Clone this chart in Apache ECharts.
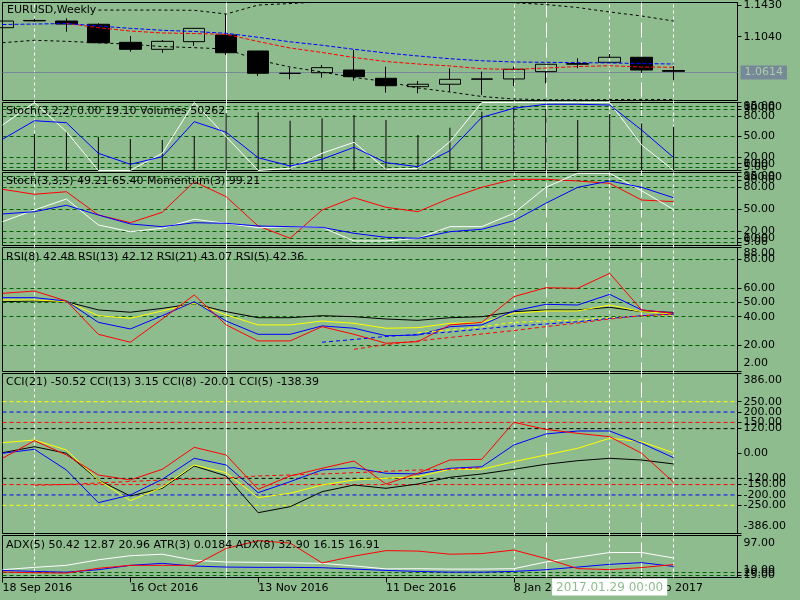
<!DOCTYPE html>
<html>
<head>
<meta charset="utf-8">
<script src="https://cdn.jsdelivr.net/npm/echarts@6.0.0/dist/echarts.min.js"></script>
<style>
html,body{margin:0;padding:0;background:#8fbc8f;}
#c{width:800px;height:600px;}
</style>
</head>
<body>
<div id="c"></div>
<script>
const FONT = 'DejaVu Sans';

// ---- categories (weekly bars) ----
const dates = ['18 Sep 2016','25 Sep 2016','2 Oct 2016','9 Oct 2016','16 Oct 2016','23 Oct 2016','30 Oct 2016',
  '6 Nov 2016','13 Nov 2016','20 Nov 2016','27 Nov 2016','4 Dec 2016','11 Dec 2016','18 Dec 2016','25 Dec 2016',
  '1 Jan 2017','8 Jan 2017','15 Jan 2017','22 Jan 2017','29 Jan 2017','5 Feb 2017','12 Feb 2017','19 Feb 2017','26 Feb 2017'];

// ---- price pane ----
const open  = [1.1151,1.1240,1.1233,1.1193,1.0971,1.0885,1.0979,1.1061,1.0864,1.0590,1.0597,1.0630,1.0528,1.0425,1.0455,1.0520,1.0520,1.0610,1.0701,1.0725,1.0787,1.0624];
const close = [1.1233,1.1235,1.1196,1.0966,1.0885,1.0983,1.1143,1.0843,1.0590,1.0588,1.0659,1.0548,1.0437,1.0455,1.0516,1.0518,1.0639,1.0701,1.0710,1.0787,1.0630,1.0614];
const high  = [1.1240,1.1262,1.1266,1.1205,1.1049,1.0999,1.1147,1.1319,1.0866,1.0659,1.0692,1.0876,1.0671,1.0495,1.0651,1.0610,1.0671,1.0703,1.0774,1.0827,1.0790,1.0680];
const low   = [1.1145,1.1225,1.1102,1.0959,1.0856,1.0843,1.0926,1.0815,1.0557,1.0516,1.0536,1.0499,1.0351,1.0344,1.0364,1.0323,1.0434,1.0467,1.0651,1.0722,1.0597,1.0507];
const bandUp  = [null,null,null,1.1368,1.1368,1.1368,1.1365,1.1319,1.1430,1.1448,1.1470,1.1500,1.1520,1.1520,1.1510,1.1500,1.1458,1.1436,1.1399,1.1344,1.1295,1.1233];
const bandLow = [1.0966,1.0996,1.0983,1.0966,1.0947,1.0919,1.0905,1.0889,1.0753,1.0667,1.0606,1.0538,1.0489,1.0409,1.0360,1.0304,1.0274,1.0265,1.0264,1.0266,1.0268,1.0267];
const maBlue = [1.1190,1.1196,1.1202,1.1172,1.1143,1.1119,1.1104,1.1082,1.1033,1.0977,1.0935,1.0885,1.0840,1.0803,1.0769,1.0744,1.0729,1.0725,1.0721,1.0717,1.0710,1.0704];
const maRed  = [null,null,1.1205,1.1151,1.1110,1.1086,1.1079,1.1070,1.0981,1.0901,1.0846,1.0784,1.0735,1.0704,1.0680,1.0646,1.0637,1.0655,1.0673,1.0683,1.0667,1.0664];
const priceTicks = [1.1430, 1.1040];

// ---- Stoch(3,2,2) + Volumes ----
const volumes = [45000,41900,44500,38800,36100,35000,39600,65600,66800,57100,59900,63700,57900,40700,49100,67500,73200,70600,57900,64800,54200,50262];
const stoch1K = [66.9,100,57.1,0,0,25.3,100,49.7,0,3.2,25.3,41.5,1.8,3.2,42.4,100,100,100,100,100,37.5,0.00];
const stoch1D = [45.9,73.2,70.3,25.3,9.1,20.3,71.8,56.2,18.8,6.6,16.5,34.1,11.5,5.6,29.1,78.2,91.5,97.4,97.4,96.3,59.6,19.10];
const stochLevels = [95,90,80,50,20,10,5];
const stochTicks = [100,95,90,80,50,20,10,5,0];

// ---- Stoch(3,3,5) + Momentum(3) ----
const stoch2K = [32.6,48.6,63.7,28.1,18.9,23.6,35.9,30.4,24.4,25.8,24.9,6.2,6.2,9.9,25.8,25.8,44.1,79.7,98.9,98.9,75.1,49.21];
const stoch2D = [43.2,46.3,55.1,41.8,29.5,25.8,31.2,30.4,26.7,25.8,24.9,16.7,11.2,9.9,18.9,22.2,34.0,57.8,79.7,88.4,79.7,65.40];
const momentum = [100.62,100.05,100.34,97.68,96.80,97.99,101.49,99.77,96.42,95.02,98.25,99.66,98.56,98.06,99.59,100.85,101.76,101.76,101.57,101.30,99.39,99.21];

// ---- RSI ----
const rsi5  = [56.2,57.8,50.9,27.8,22.3,38.4,55.1,34.3,23.2,23.2,33.1,27.8,21.6,22.7,34.3,36.1,53.9,60.1,59.7,70.1,44.7,42.36];
const rsi8  = [53.2,53.2,50.9,36.1,31.5,40.7,50.4,37.0,27.8,27.8,33.6,32.0,26.8,27.3,33.1,34.3,44.0,48.6,48.1,55.5,44.7,42.48];
const rsi13 = [51.6,51.6,50.4,40.7,38.9,44.0,49.3,41.2,34.3,34.3,37.0,35.4,32.0,32.4,35.4,36.1,42.4,44.0,44.0,48.1,43.5,42.12];
const rsi21 = [50.4,50.9,50.4,44.7,43.1,45.8,49.0,43.5,39.3,39.3,40.7,40.0,38.4,37.5,39.3,40.0,43.5,44.7,44.7,46.5,43.5,43.07];
const rsiMaBlue   = [null,null,null,null,null,null,null,null,null,null,22.3,24.2,26.3,27.7,29.4,31.5,33.6,34.9,36.5,38.9,40.7,41.7];
const rsiMaRed    = [null,null,null,null,null,null,null,null,null,null,null,17.4,20.7,23.2,25.6,28.0,30.4,33.1,35.6,38.4,40.7,41.9];
const rsiMaYellow = [null,null,null,null,null,null,null,null,null,null,null,null,null,29.0,30.8,32.9,36.1,37.0,37.7,39.3,40.5,41.2];
const rsiLevels = [80,60,50,40,20];
const rsiTicks = [88,80,60,50,40,20,2];

// ---- CCI ----
const cci5  = [-23.2,61.7,-7.2,-103.7,-127.8,-76.2,29.9,-7.2,-172.7,-108.5,-71.4,-36.2,-147.1,-95.5,-31.4,-28.0,150.5,116.7,97.4,81.0,1.0,-138.39];
const cci8  = [1.0,20.3,-79.6,-237.3,-200.2,-124.5,-23.2,-55.5,-189.1,-136.0,-79.6,-68.5,-95.5,-98.9,-71.4,-63.7,41.0,94.1,108.5,108.5,49.2,-20.01];
const cci13 = [52.1,65.1,16.9,-127.8,-227.7,-163.1,-55.5,-92.6,-213.2,-192.0,-152.0,-127.8,-119.6,-111.9,-76.2,-76.2,-39.6,-7.2,25.1,73.3,56.9,3.15];
const cci21 = [3.9,32.8,1.0,-127.8,-205.0,-167.9,-60.3,-108.5,-285.6,-256.6,-184.3,-152.0,-167.9,-147.1,-114.8,-98.9,-76.2,-52.1,-34.7,-23.2,-31.4,-50.52];
const cciMa = [null,-153.4,-149.5,-142.3,-135.1,-127.8,-123.0,-118.2,-108.5,-103.7,-98.9,-92.6,-85.9,-79.6,-76.2,-68.5];
const cciLevelValues = [250, 200, 150, 120, -120, -150, -200, -250];
const cciLevelColors = ['#ffff00', '#0000ff', '#ff0000', '#000000', '#000000', '#ff0000', '#0000ff', '#ffff00'];
const cciTicks = [386,250,200,150,120,0,-120,-150,-200,-250,-386];

// ---- ADX / ATR ----
const adx5 = [26.1,31.0,35.2,46.7,55.1,58.2,45.6,42.1,41.4,40.4,39.3,34.1,27.8,28.2,27.4,27.4,28.2,42.1,51.9,61.8,61.8,50.42];
const adx8 = [24.7,22.6,21.1,26.1,35.2,39.3,33.7,31.6,31.0,31.0,30.3,27.4,24.7,22.6,21.1,21.1,22.6,26.1,31.6,37.3,40.8,32.90];
const atr3 = [0.0134,0.0129,0.0127,0.0159,0.0179,0.0179,0.0179,0.0293,0.0345,0.0329,0.0195,0.0241,0.0278,0.0275,0.0254,0.0258,0.0282,0.0225,0.0157,0.0150,0.0164,0.0184];
const adxLevels = [20,15];
const adxTicks = [97,20,15,10];

// ---- vertical marker lines ----
const vLineDates  = ['25 Sep 2016','6 Nov 2016','8 Jan 2017','15 Jan 2017','29 Jan 2017','5 Feb 2017','12 Feb 2017'];
const vLineStyles = [[3,3],'solid',[3,3],[15,5],[3,3],[15,5],[3,3]];

// ---------------------------------------------------------------
const panes = [
  {top: 2, height: 98},
  {top: 102, height: 68},
  {top: 172, height: 73},
  {top: 247, height: 124},
  {top: 373, height: 160},
  {top: 535, height: 42},
  {top: 2, height: 575, overlay: true}
];

function xAx(i) {
  const bottom = (i === 5);
  const ax = {
    type: 'category', gridIndex: i, data: dates, boundaryGap: false, show: i !== 6,
    axisLine: {show: false},
    axisTick: {show: bottom, interval: 3, length: 5, lineStyle: {color: '#000', width: 1}},
    axisLabel: {show: bottom, interval: 3, align: 'left', margin: 5, color: '#000', fontFamily: FONT, fontSize: 11},
    splitLine: {show: false}
  };
  if (bottom) {
    ax.axisPointer = {
      show: true, type: 'none', value: 19, status: 'show', snap: false, triggerTooltip: false,
      label: {show: true, formatter: () => '2017.01.29 00:00', backgroundColor: '#ffffff', color: '#8fbc8f',
        fontFamily: FONT, fontSize: 12, padding: [3, 4, 2, 4], margin: 1, borderRadius: 0,
        shadowBlur: 0, shadowColor: 'transparent', borderWidth: 0}
    };
  }
  return ax;
}

// one axis per printed value, so the terminal-style overlapping labels are all kept
const yAxes = [];
function addAxis(ax) { yAxes.push(ax); return yAxes.length - 1; }
function paneAxes(grid, min, max, ticks, digits, padTop, padBot) {
  const rs = (p) => ({padding: p, color: '#000', fontFamily: FONT, fontSize: 11});
  let first = -1;
  ticks.forEach((v, k) => {
    const isMax = Math.abs(v - max) < 1e-9, isMin = Math.abs(v - min) < 1e-9;
    const idx = addAxis({
      type: 'value', gridIndex: grid, min: min, max: max, position: 'right',
      axisLine: {show: k === 0, lineStyle: {color: '#000', width: 1}},
      axisTick: {show: true, length: 4, customValues: [v], lineStyle: {color: '#000', width: 1}},
      splitLine: {show: false},
      axisLabel: {show: true, customValues: [v], margin: 6, hideOverlap: false, showMinLabel: true, showMaxLabel: true,
        formatter: (val) => {
          const s = Number(val).toFixed(digits);
          return isMax ? '{t|' + s + '}' : (isMin ? '{b|' + s + '}' : '{n|' + s + '}');
        },
        rich: {t: rs([padTop, 0, 0, 0]), b: rs([0, 0, padBot, 0]), n: rs([0, 0, 0, 0])}}
    });
    if (first < 0) first = idx;
  });
  return first;
}
function hidY(grid, min, max) {
  return addAxis({type: 'value', gridIndex: grid, min: min, max: max, show: false, splitLine: {show: false}});
}

const Y = {};
Y.price = paneAxes(0, 1.0255, 1.1461, priceTicks, 4, 0, 0);
Y.st1 = paneAxes(1, 0, 100, stochTicks, 2, 10, 12);
Y.vol = hidY(1, 0, 78000);
Y.st2 = paneAxes(2, 0, 100, stochTicks, 2, 10, 12);
Y.mom = hidY(2, 94.19, 102.54);
Y.rsi = paneAxes(3, 2, 88, rsiTicks, 2, 11, 17);
Y.cci = paneAxes(4, -386, 386, cciTicks, 2, 13, 14);
Y.adx = paneAxes(5, 10, 97, adxTicks, 2, 16, 14);
Y.atr = hidY(5, 0.0097, 0.0380);
Y.ov = hidY(6, 0, 1);

function ln(data, x, y, color, dash, z) {
  return {type: 'line', data: data, xAxisIndex: x, yAxisIndex: y, showSymbol: false, symbol: 'none',
    silent: true, connectNulls: false, z: z || 4,
    lineStyle: {color: color, width: 1, type: dash || 'solid'}, itemStyle: {color: color}};
}
// horizontal level line: from the first to the last category at the level value
function levelLine(v, color, x, y) {
  return ln([[dates[0], v], [dates[dates.length - 1], v]], x, y, color, [4, 3], 2);
}
function levels(vals, color) {
  return {silent: true, symbol: 'none', animation: false, z: 2, label: {show: false},
    lineStyle: {color: color || 'rgb(0,100,0)', type: [4, 3], width: 1, opacity: 1},
    data: vals.map(v => ({yAxis: v}))};
}

const lastPrice = close[close.length - 1];
const tStyle = {fontFamily: FONT, fontSize: 11, fontWeight: 'normal', color: '#000'};

const series = [
  // vertical object lines across all panes
  {type: 'line', xAxisIndex: 6, yAxisIndex: Y.ov, data: [], z: 1, silent: true,
   markLine: {silent: true, symbol: 'none', animation: false, z: 1, label: {show: false},
     data: vLineDates.map((d, k) => ({xAxis: d, lineStyle: {color: 'white', width: 1, type: vLineStyles[k]}}))}},
  // price
  {type: 'candlestick', xAxisIndex: 0, yAxisIndex: Y.price, barWidth: 22, z: 3, silent: true,
   data: open.map((o, i) => [o, close[i], low[i], high[i]]),
   itemStyle: {color: 'transparent', color0: '#000000', borderColor: '#000000', borderColor0: '#000000', borderColorDoji: '#000000', borderWidth: 1},
   markLine: {silent: true, symbol: 'none', animation: false, z: 2,
     lineStyle: {color: 'rgb(119,136,153)', type: 'solid', width: 1},
     label: {show: true, position: 'end', distance: 3, formatter: () => lastPrice.toFixed(4),
       backgroundColor: '#778899', color: '#a9cfa9', fontFamily: FONT, fontSize: 11, padding: [2, 4, 1, 4]},
     data: [{yAxis: lastPrice}]}},
  ln(bandUp, 0, Y.price, '#000000', [3, 3]),
  ln(bandLow, 0, Y.price, '#000000', [3, 3]),
  ln(maRed, 0, Y.price, '#ff0000', [4, 2]),
  ln(maBlue, 0, Y.price, '#0000ff', [4, 2]),
  // Stoch(3,2,2) + volumes
  {type: 'bar', xAxisIndex: 1, yAxisIndex: Y.vol, data: volumes, barWidth: 1, z: 3, silent: true,
   itemStyle: {color: '#000000'}},
  Object.assign(ln([], 1, Y.st1, '#006400'), {markLine: levels(stochLevels)}),
  ln(stoch1K, 1, Y.st1, '#ffffff'),
  ln(stoch1D, 1, Y.st1, '#0000ff'),
  // Stoch(3,3,5) + momentum
  Object.assign(ln([], 2, Y.st2, '#006400'), {markLine: levels(stochLevels)}),
  ln(momentum, 2, Y.mom, '#ff0000'),
  ln(stoch2K, 2, Y.st2, '#ffffff'),
  ln(stoch2D, 2, Y.st2, '#0000ff'),
  // RSI
  Object.assign(ln([], 3, Y.rsi, '#006400'), {markLine: levels(rsiLevels)}),
  ln(rsi21, 3, Y.rsi, '#000000'),
  ln(rsi13, 3, Y.rsi, '#ffff00'),
  ln(rsi8, 3, Y.rsi, '#0000ff'),
  ln(rsi5, 3, Y.rsi, '#ff0000'),
  ln(rsiMaYellow, 3, Y.rsi, '#ffff00', [4, 3]),
  ln(rsiMaBlue, 3, Y.rsi, '#0000ff', [4, 3]),
  ln(rsiMaRed, 3, Y.rsi, '#ff0000', [4, 3]),
  // CCI levels
  ...cciLevelValues.map((v, k) => levelLine(v, cciLevelColors[k], 4, Y.cci)),
  ln(cci21, 4, Y.cci, '#000000'),
  ln(cci13, 4, Y.cci, '#ffff00'),
  ln(cci8, 4, Y.cci, '#0000ff'),
  ln(cci5, 4, Y.cci, '#ff0000'),
  ln(cciMa, 4, Y.cci, '#ff0000', [4, 3]),
  // ADX / ATR
  Object.assign(ln([], 5, Y.adx, '#006400'), {markLine: levels(adxLevels)}),
  ln(adx5, 5, Y.adx, '#ffffff'),
  ln(adx8, 5, Y.adx, '#0000ff'),
  ln(atr3, 5, Y.atr, '#ff0000')
];

const option = {
  backgroundColor: '#8fbc8f',
  animation: false,
  textStyle: {fontFamily: FONT},
  title: [
    {text: 'EURUSD,Weekly', left: 7, top: 5},
    {text: 'Stoch(3,2,2) 0.00 19.10 Volumes 50262', left: 6, top: 106},
    {text: 'Stoch(3,3,5) 49.21 65.40 Momentum(3) 99.21', left: 6, top: 176},
    {text: 'RSI(8) 42.48 RSI(13) 42.12 RSI(21) 43.07 RSI(5) 42.36', left: 6, top: 252},
    {text: 'CCI(21) -50.52 CCI(13) 3.15 CCI(8) -20.01 CCI(5) -138.39', left: 6, top: 377},
    {text: 'ADX(5) 50.42 12.87 20.96 ATR(3) 0.0184 ADX(8) 32.90 16.15 16.91', left: 6, top: 540}
  ].map(t => Object.assign(t, {padding: 0, textStyle: tStyle, z: 10})),
  grid: panes.map(p => ({left: 2.5, width: 735, top: p.top + 0.5, height: p.height, show: !p.overlay,
    borderColor: '#000', borderWidth: 1, backgroundColor: 'transparent', containLabel: false, outerBoundsMode: 'none'})),
  xAxis: panes.map((p, i) => xAx(i)),
  yAxis: yAxes,
  series: series
};

const chart = echarts.init(document.getElementById('c'), null, {renderer: 'canvas'});
chart.setOption(option);
</script>
</body>
</html>
